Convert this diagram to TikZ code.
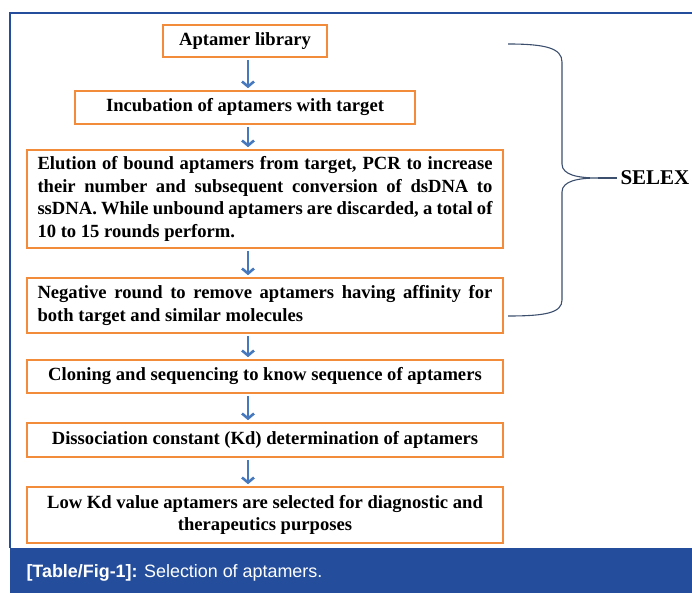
\documentclass[tikz,border=0pt]{standalone}
\usepackage{fontspec}
\setmainfont{Liberation Serif}
\newfontfamily\capfont{Liberation Sans}
\usepackage{tikz}
\usetikzlibrary{arrows.meta,calc}
\definecolor{boxorange}{RGB}{242,140,58}
\definecolor{arrowblue}{RGB}{70,120,190}
\definecolor{framblue}{RGB}{36,78,156}
\definecolor{bracegray}{RGB}{60,80,110}
\newcommand\nohyph{\hyphenpenalty=10000\exhyphenpenalty=10000\relax}
\tikzset{
  stagebox/.style={draw=boxorange,line width=2.6pt,fill=white,
    font=\bfseries\fontsize{18.6}{22.8}\selectfont\nohyph,
    inner xsep=10.5pt,inner ysep=4pt},
  widebox/.style={stagebox,minimum width=476pt},
  flowarrow/.style={arrowblue,line width=2.6pt,-{Straight Barb[length=5pt,width=12pt,line width=2.6pt]}}
}
\begin{document}
\begin{tikzpicture}[x=1pt,y=-1pt]
    \useasboundingbox (0,0) rectangle (692,593);
    % frame and caption band
    \fill[framblue] (10,548) rectangle (692,593);
    \draw[framblue,line width=2.6pt] (692,13)--(10,13)--(10,548);
    \node[anchor=west,white,font=\capfont\fontsize{17.9}{20}\selectfont] (cap) at (23,573)
        {\textbf{[Table/Fig-1]:} Selection of aptamers.};
    % stages
    \node[stagebox,minimum width=164pt,minimum height=32pt](lib) at (245,41) {Aptamer library};
    \node[stagebox,minimum width=340pt,minimum height=33pt](incub) at (245,107.5) {Incubation of aptamers with target};
    \node[widebox,text width=455pt,align=justify,minimum height=98pt](elution) at (265,199)
        {Elution of bound aptamers from target, PCR to increase\linebreak their number and subsequent conversion of dsDNA to\linebreak ssDNA. While unbound aptamers are discarded, a total of\linebreak 10 to 15 rounds perform.};
    \node[widebox,text width=455pt,align=justify,minimum height=55pt](negative) at (265,305.5)
        {Negative round to remove aptamers having affinity for\linebreak both target and similar molecules};
    \node[widebox,align=center,minimum height=33pt](cloning) at (265,376.5)
        {Cloning and sequencing to know sequence of aptamers};
    \node[widebox,align=center,minimum height=34pt](kd) at (265,440)
        {Dissociation constant (Kd) determination of aptamers};
    \node[widebox,align=center,minimum height=56pt](lowkd) at (265,515)
        {Low Kd value aptamers are selected for diagnostic and\\ therapeutics purposes};
    \foreach \a/\b in {lib/incub,incub/elution,elution/negative,negative/cloning,cloning/kd,kd/lowkd}
        \draw[flowarrow] ($(\a.south -| 248,0)+(0,1.5)$) -- ($(\b.north -| 248,0)+(0,-1.5)$);
    % SELEX brace
    \node[anchor=west,font=\bfseries\fontsize{21}{24}\selectfont](selex) at (617,178) {SELEX};
    \coordinate (bt) at (508,44);
    \coordinate (bb) at (508,316);
    \coordinate (tip) at (598,178);
    \draw[bracegray,line width=1.1pt] (bt) .. controls (545,44) and (562,48) .. (562,62)
        -- (562,164) .. controls (562,175) and (578,178) .. (tip)
        .. controls (578,178) and (562,181) .. (562,192)
        -- (562,300) .. controls (562,313) and (545,316) .. (bb);
    \draw[bracegray,line width=1.1pt] (tip) -- (selex.west);
\end{tikzpicture}
\end{document}
